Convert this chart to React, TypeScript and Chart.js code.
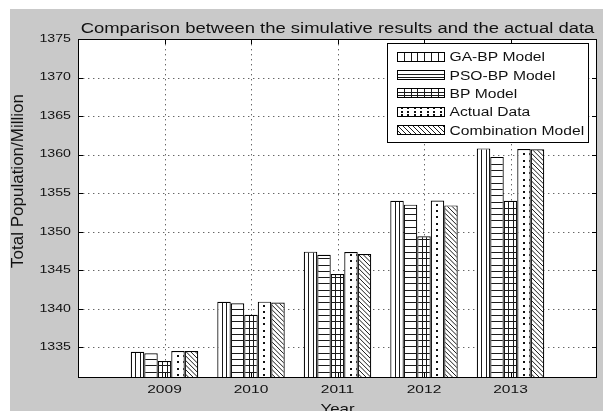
import React, { useEffect, useRef } from "react";
import { Chart, registerables } from "chart.js";

Chart.register(...registerables);

// ---- data ----
const years = [2009, 2010, 2011, 2012, 2013];
const gaBp = [1334.4, 1340.9, 1347.4, 1354.0, 1360.8];
const psoBp = [1334.2, 1340.7, 1347.0, 1353.5, 1359.7];
const bp = [1333.2, 1339.2, 1344.5, 1349.4, 1354.0];
const actual = [1334.5, 1340.91, 1347.35, 1354.04, 1360.72];
const combination = [1334.5, 1340.8, 1347.1, 1353.4, 1360.7];
const seriesNames = ["GA-BP Model", "PSO-BP Model", "BP Model", "Actual Data", "Combination Model"];
const yTicks = [1335, 1340, 1345, 1350, 1355, 1360, 1365, 1370, 1375];
const Y_MIN = 1331;
const Y_MAX = 1375;
const X_MIN = 2008;
const X_MAX = 2014;

const titleText = "Comparison between the simulative results and the actual data";
const yTitle = "Total Population/Million";
const xTitle = "Year";

type Hatch = "vertical" | "horizontal" | "grid" | "dots" | "diag";
const hatches: Hatch[] = ["vertical", "horizontal", "grid", "dots", "diag"];

const W = 603;
const H = 411;
const FONT = '"Liberation Sans", Arial, Helvetica, sans-serif';
const INK = "#111";
const FIG_BG = "#c9c9c9";

interface Rect { l: number; t: number; r: number; b: number; }

function drawHatch(ctx: CanvasRenderingContext2D, kind: Hatch, rc: Rect, anchorY: number, legend: boolean) {
  const vStep = legend ? 6.8 : 4.5;
  const hStep = legend ? 3.2 : 6.3;
  ctx.save();
  ctx.beginPath();
  ctx.rect(rc.l + 1, rc.t + 1, rc.r - rc.l - 2, rc.b - rc.t - 1);
  ctx.clip();
  ctx.strokeStyle = "#1a1a1a";
  ctx.fillStyle = "#111";
  ctx.lineWidth = 1;
  const vLines = () => {
    ctx.beginPath();
    for (let x = rc.l + vStep; x < rc.r - 1.5; x += vStep) {
      const px = Math.round(x) + 0.5;
      ctx.moveTo(px, rc.t);
      ctx.lineTo(px, rc.b);
    }
    ctx.stroke();
  };
  const hLines = () => {
    ctx.beginPath();
    for (let y = anchorY - hStep; y > rc.t + 1; y -= hStep) {
      const py = Math.round(y) + 0.5;
      ctx.moveTo(rc.l, py);
      ctx.lineTo(rc.r, py);
    }
    ctx.stroke();
  };
  if (kind === "vertical") vLines();
  if (kind === "horizontal") hLines();
  if (kind === "grid") { vLines(); hLines(); }
  if (kind === "dots") {
    const cx = (rc.l + rc.r) / 2;
    const colStep = 6.5;
    const rowStep = legend ? 3.4 : 6.3;
    for (let x = cx - Math.floor((cx - rc.l) / colStep) * colStep; x < rc.r; x += colStep) {
      for (let y = anchorY - rowStep / 2; y > rc.t; y -= rowStep) {
        ctx.fillRect(Math.round(x) - 1, Math.round(y) - 1, 2, 2);
      }
    }
  }
  if (kind === "diag") {
    const step = legend ? 5 : 4.6;
    const h = rc.b - rc.t;
    ctx.beginPath();
    for (let x = rc.l - h - step; x < rc.r + step; x += step) {
      ctx.moveTo(x, rc.t);
      ctx.lineTo(x + h, rc.b);
    }
    ctx.stroke();
  }
  ctx.restore();
}

function stretchedText(ctx: CanvasRenderingContext2D, text: string, x: number, y: number, size: number, sx: number, align: CanvasTextAlign, baseline: CanvasTextBaseline) {
  ctx.save();
  ctx.translate(x, y);
  ctx.scale(sx, 1);
  ctx.font = `${size}px ${FONT}`;
  ctx.fillStyle = INK;
  ctx.textAlign = align;
  ctx.textBaseline = baseline;
  ctx.fillText(text, 0, 0);
  ctx.restore();
}

const matlabFigure = {
  id: "matlabFigure",
  beforeDraw(chart: any) {
    const { ctx, chartArea: a } = chart;
    ctx.save();
    ctx.fillStyle = "#ffffff";
    ctx.fillRect(0, 0, W, H);
    ctx.fillStyle = FIG_BG;
    ctx.fillRect(10, 9, W - 10, H - 9);
    ctx.fillStyle = "#ffffff";
    ctx.fillRect(a.left, a.top, a.right - a.left, a.bottom - a.top);
    ctx.restore();
  },
  beforeDatasetsDraw(chart: any) {
    const { ctx, chartArea: a, scales } = chart;
    ctx.save();
    ctx.strokeStyle = "#666";
    ctx.lineWidth = 1;
    ctx.setLineDash([1.4, 3.6]);
    ctx.beginPath();
    for (const v of yTicks) {
      if (v >= Y_MAX) continue;
      const py = Math.round(scales.y.getPixelForValue(v)) + 0.5;
      ctx.moveTo(a.left, py);
      ctx.lineTo(a.right, py);
    }
    for (const v of years) {
      const px = Math.round(scales.x.getPixelForValue(v)) + 0.5;
      ctx.moveTo(px, a.top);
      ctx.lineTo(px, a.bottom);
    }
    ctx.stroke();
    ctx.restore();
  },
  afterDatasetsDraw(chart: any) {
    const { ctx, chartArea: a, scales } = chart;
    // hatch fills inside every bar
    chart.data.datasets.forEach((_: any, di: number) => {
      const meta = chart.getDatasetMeta(di);
      meta.data.forEach((el: any) => {
        const p = el.getProps(["x", "y", "base", "width"], true);
        const rc = { l: p.x - p.width / 2, t: p.y, r: p.x + p.width / 2, b: Math.min(p.base, a.bottom) };
        drawHatch(ctx, hatches[di], rc, a.bottom, false);
      });
    });

    // axes frame and inward ticks
    ctx.save();
    ctx.strokeStyle = "#000";
    ctx.lineWidth = 1;
    ctx.strokeRect(a.left + 0.5, a.top + 0.5, a.right - a.left - 1, a.bottom - a.top - 1);
    ctx.beginPath();
    const tl = 5;
    for (const v of yTicks) {
      if (v >= Y_MAX) continue;
      const py = Math.round(scales.y.getPixelForValue(v)) + 0.5;
      ctx.moveTo(a.left, py); ctx.lineTo(a.left + tl, py);
      ctx.moveTo(a.right, py); ctx.lineTo(a.right - tl, py);
    }
    for (const v of years) {
      const px = Math.round(scales.x.getPixelForValue(v)) + 0.5;
      ctx.moveTo(px, a.top); ctx.lineTo(px, a.top + tl);
      ctx.moveTo(px, a.bottom); ctx.lineTo(px, a.bottom - tl);
    }
    ctx.stroke();
    ctx.restore();

    // tick labels
    for (const v of yTicks) {
      stretchedText(ctx, String(v), a.left - 7, scales.y.getPixelForValue(v), 10.5, 1.35, "right", "middle");
    }
    for (const v of years) {
      stretchedText(ctx, String(v), scales.x.getPixelForValue(v), a.bottom + 12, 11.5, 1.35, "center", "middle");
    }

    // title and axis titles
    stretchedText(ctx, titleText, (a.left + a.right) / 2, 32.5, 15.5, 1.19, "center", "alphabetic");
    stretchedText(ctx, xTitle, (a.left + a.right) / 2, H + 2, 13.5, 1.25, "center", "alphabetic");
    ctx.save();
    ctx.translate(23, 181);
    ctx.rotate(-Math.PI / 2);
    ctx.font = `17px ${FONT}`;
    ctx.fillStyle = INK;
    ctx.textAlign = "center";
    ctx.textBaseline = "alphabetic";
    ctx.fillText(yTitle, 0, 0);
    ctx.restore();

    // legend
    const lg = { l: 387, t: 43, r: 589, b: 143 };
    ctx.save();
    ctx.fillStyle = "#fff";
    ctx.fillRect(lg.l, lg.t, lg.r - lg.l, lg.b - lg.t);
    ctx.strokeStyle = "#000";
    ctx.lineWidth = 1;
    ctx.strokeRect(lg.l + 0.5, lg.t + 0.5, lg.r - lg.l - 1, lg.b - lg.t - 1);
    ctx.restore();
    seriesNames.forEach((name, i) => {
      const cy = 56.7 + i * 18.35;
      const sw = { l: 397, t: Math.round(cy - 5), r: 445, b: Math.round(cy + 5) };
      ctx.save();
      ctx.fillStyle = "#fff";
      ctx.fillRect(sw.l, sw.t, sw.r - sw.l, sw.b - sw.t);
      ctx.restore();
      drawHatch(ctx, hatches[i], sw, sw.b, true);
      ctx.save();
      ctx.strokeStyle = "#000";
      ctx.lineWidth = 1;
      ctx.strokeRect(sw.l + 0.5, sw.t + 0.5, sw.r - sw.l - 1, sw.b - sw.t - 1);
      ctx.restore();
      stretchedText(ctx, name, 449.5, cy + 4.6, 12.5, 1.25, "left", "alphabetic");
    });
  },
};

export default function App() {
  const ref = useRef<HTMLCanvasElement | null>(null);
  useEffect(() => {
    if (!ref.current) return;
    const seriesValues = [gaBp, psoBp, bp, actual, combination];
    const chart = new Chart(ref.current, {
      type: "bar",
      data: {
        datasets: seriesValues.map((vals, i) => ({
          label: seriesNames[i],
          data: years.map((yr, j) => ({ x: yr, y: vals[j] })),
          backgroundColor: "#ffffff",
          borderColor: "#000000",
          borderWidth: 1.2,
          borderSkipped: "start",
          base: Y_MIN,
        })),
      } as any,
      options: {
        animation: false,
        responsive: false,
        devicePixelRatio: 1,
        events: [],
        layout: { padding: { left: 78, top: 39, right: W - 597, bottom: H - 378 } },
        datasets: { bar: { categoryPercentage: 0.78, barPercentage: 1 } },
        plugins: { legend: { display: false }, title: { display: false }, tooltip: { enabled: false } },
        scales: {
          x: {
            type: "linear",
            min: X_MIN,
            max: X_MAX,
            offset: false,
            grid: { display: false },
            border: { display: false },
            ticks: { display: false },
            afterBuildTicks: (s: any) => { s.ticks = years.map((v) => ({ value: v })); },
            afterFit: (s: any) => { s.height = 0; },
          },
          y: {
            type: "linear",
            min: Y_MIN,
            max: Y_MAX,
            grid: { display: false },
            border: { display: false },
            ticks: { display: false },
            afterBuildTicks: (s: any) => { s.ticks = yTicks.map((v) => ({ value: v })); },
            afterFit: (s: any) => { s.width = 0; },
          },
        },
      } as any,
      plugins: [matlabFigure],
    });
    return () => chart.destroy();
  }, []);
  return (
    <div style={{ position: "fixed", left: 0, top: 0, width: W, height: H, background: "#fff" }}>
      <canvas ref={ref} width={W} height={H} style={{ display: "block", width: W, height: H }} />
    </div>
  );
}
